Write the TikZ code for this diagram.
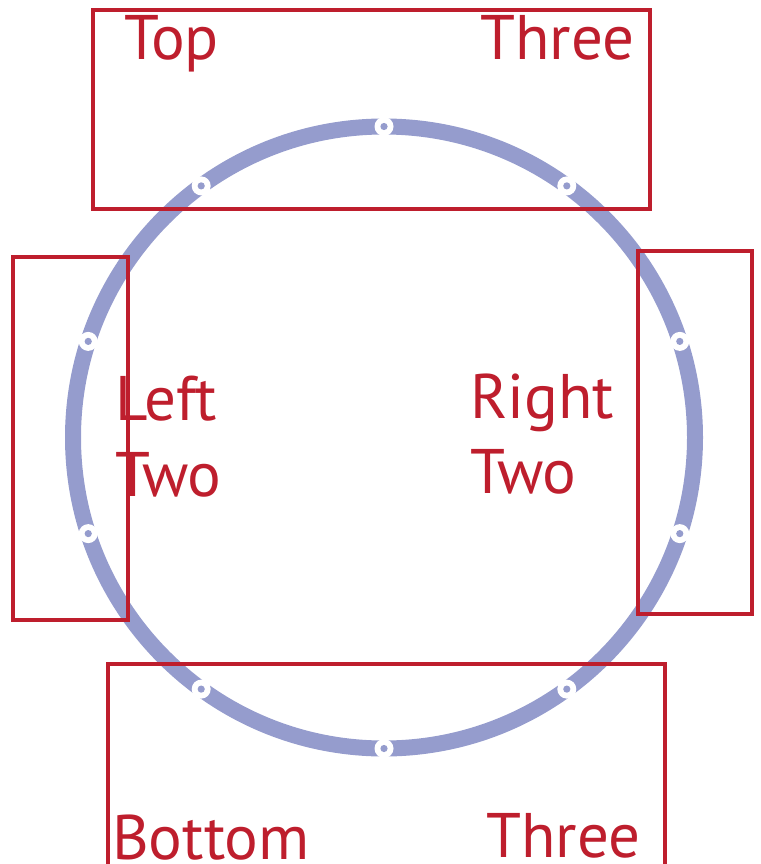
\documentclass[tikz,border=0pt]{standalone}
\usepackage{fontspec}
\setmainfont{PT Sans}
\definecolor{rred}{HTML}{BE1E2D}
\definecolor{rblue}{HTML}{959CCD}
\begin{document}
\begin{tikzpicture}[x=1pt,y=-1pt,
  lbl/.style={text=rred,font=\fontsize{63}{63}\selectfont,inner sep=0pt,anchor=base west},
  box/.style={draw=rred,line width=3.2pt},
  ring/.style={draw=rblue,line width=16pt}]
\useasboundingbox (0,0) rectangle (760,864);
\coordinate (c) at (384,437.5);
\draw[ring] (c) circle[radius=311];
\foreach \a in {18,54,...,342}{
  \fill[white] (c) ++(\a:311 and -311) circle[radius=9.5];
  \fill[rblue] (c) ++(\a:311 and -311) circle[radius=3.6];
}
\draw[box] (93,10) rectangle (650,209);
\draw[box] (13,257) rectangle (128,620);
\draw[box] (638,251) rectangle (752,614);
\draw[box] (108,875) -- (108,664) -- (665,664) -- (665,875);
\node[lbl] (top) at (124,60) {Top};
\node[lbl] (topthree) at (480,60) {Three};
\node[lbl] (left) at (115,420) {Left};
\node[lbl] (lefttwo) at (115,496) {Two};
\node[lbl] (right) at (470,418) {Right};
\node[lbl] (righttwo) at (470,493) {Two};
\node[lbl] (bottom) at (112,859) {Bottom};
\node[lbl] (botthree) at (486,857) {Three};
\end{tikzpicture}
\end{document}
